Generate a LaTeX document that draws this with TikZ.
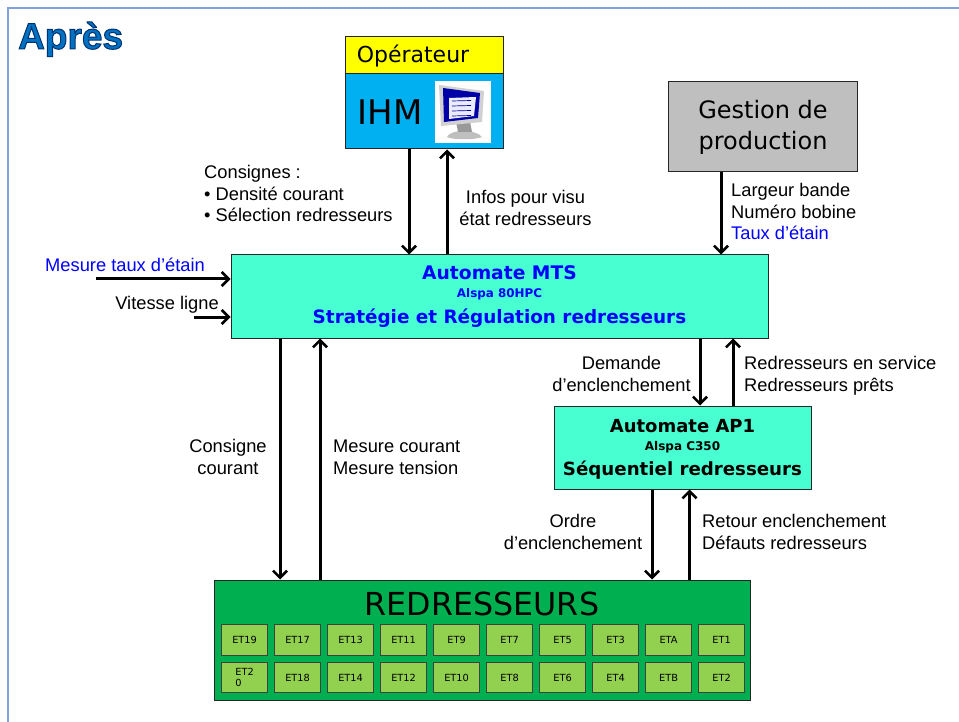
\documentclass[tikz,border=0pt]{standalone}
\usepackage{fontspec}
\setmainfont{Liberation Sans}
\newfontfamily\comic{DejaVu Sans}
\usetikzlibrary{arrows.meta}

\definecolor{cadre}{HTML}{7FA3D6}
\definecolor{titre}{HTML}{0070C0}
\definecolor{jaune}{HTML}{FFFF00}
\definecolor{ciel}{HTML}{00B0F0}
\definecolor{gris}{HTML}{BFBFBF}
\definecolor{turquoise}{HTML}{47FFD1}
\definecolor{vert}{HTML}{00B050}
\definecolor{vertclair}{HTML}{92D050}
\definecolor{bleu}{HTML}{0000FF}

\tikzset{
  boite/.style={draw=black!85,line width=1pt,inner sep=0pt,align=center,font=\comic},
  et/.style={boite,fill=vertclair,draw=black!75,line width=1.2pt,minimum width=45.5pt,minimum height=30.5pt,font=\comic\fontsize{9.8}{11.5}\selectfont},
  fleche/.style={draw=black,line width=3pt,-{Straight Barb[length=7pt,width=14pt,line width=2.6pt]}},
  legende/.style={inner sep=0pt,font=\fontsize{18.3}{21.7}\selectfont}
}

\begin{document}
\begin{tikzpicture}[x=1pt,y=-1pt]

      \useasboundingbox (0,0) rectangle (959,722);
      \begin{scope}
        \clip (0,0) rectangle (959,722);
        \draw[cadre,line width=2.5pt] (8,8) rectangle (980,740);
      \end{scope}

      \node[anchor=base west,inner sep=0pt,text=titre,font=\fontsize{37}{37}\selectfont\bfseries] (apres) at (18,49)
        {\special{pdf:code 2 Tr 1 w 0 0.2 0.45 RG}Après\special{pdf:code 0 Tr}};

      % boxes at the top
      \node[boite,fill=jaune,minimum width=158pt,minimum height=37pt] (operateur) at (424,55.5) {};
      \node[inner sep=0pt,font=\comic\fontsize{22}{22}\selectfont] (operateurtxt) at (413,56) {Opérateur};
      \node[boite,fill=ciel,minimum width=158pt,minimum height=75pt] (ihm) at (424,111.5) {};
      \node[inner sep=0pt,font=\comic\fontsize{34}{34}\selectfont] (ihmtxt) at (390,112) {IHM};
      \node[fill=white,minimum width=56pt,minimum height=62pt,inner sep=0pt] (ecran) at (463,112) {};
      % little monitor
      \fill[black!25] (447,137) .. controls (450,129) and (476,129) .. (482,137) .. controls (476,140) and (452,140) .. (447,137);
      \fill[black!40] (456,122) -- (470,122) -- (472,132) -- (458,132) -- cycle;
      \fill[black!18] (439,85) -- (484,91) -- (482,122) -- (441,126) -- cycle;
      \fill[blue!65!black] (443,88) -- (480,93) -- (478,118) -- (444,122) -- cycle;
      \fill[white!92!blue] (449,98) -- (476,97) -- (474,116) -- (449,119) -- cycle;
      \foreach \y in {101,106,111,116}
        \draw[blue!60!black,line width=.7pt] (452,\y) -- (471,\y-.5);

      \node[boite,fill=gris,minimum width=189pt,minimum height=90pt,font=\comic\fontsize{24}{31}\selectfont] (gestion) at (763,127)
        {Gestion de\\production};

      % automates
      \node[boite,fill=turquoise,minimum width=537pt,minimum height=83pt,text=bleu,font=\comic\bfseries] (mts) at (499.5,296.5)
        {\fontsize{18.7}{22}\selectfont Automate MTS\\[6pt]
         \fontsize{11.9}{14}\selectfont Alspa 80HPC\\[7pt]
         \fontsize{18.4}{23}\selectfont Stratégie et Régulation redresseurs};
      \node[boite,fill=turquoise,minimum width=257pt,minimum height=83pt] (ap) at (682.5,447.5) {};
      \node[inner sep=0pt,align=center,font=\comic\bfseries] (aptxt) at (682.5,449.5)
        {\fontsize{18}{22}\selectfont Automate AP1\\[6pt]
         \fontsize{12}{14}\selectfont Alspa C350\\[7pt]
         \fontsize{18.2}{23}\selectfont Séquentiel redresseurs};

      % redresseurs
      \node[boite,fill=vert,minimum width=536pt,minimum height=120pt] (redr) at (482,640) {};
      \node[inner sep=0pt,font=\comic\fontsize{31.7}{31.7}\selectfont] (redrtxt) at (482,604) {REDRESSEURS};

      \foreach \nom [count=\i from 0] in {ET19,ET17,ET13,ET11,ET9,ET7,ET5,ET3,ETA,ET1}
        \node[et] (haut\i) at (244.6+53*\i,640) {\nom};
      \foreach \nom [count=\i from 1] in {ET18,ET14,ET12,ET10,ET8,ET6,ET4,ETB,ET2}
        \node[et] (bas\i) at (244.6+53*\i,677.5) {\nom};
      \node[et,align=left] (bas0) at (244.6,677.5) {ET2\\0};

      % arrows
      \draw[fleche] ([xshift=-15pt]ihm.south) -- ([xshift=-15pt]ihm.south |- mts.north);
      \draw[fleche] ([xshift=23pt]ihm.south |- mts.north) -- ([xshift=23pt]ihm.south);
      \draw[fleche] ([xshift=-42pt]gestion.south) -- ([xshift=-42pt]gestion.south |- mts.north);

      \coordinate (taux) at (96,279);
      \coordinate (vitesse) at (194,317);
      \draw[fleche] (taux) -- (taux -| mts.west);
      \draw[fleche] (vitesse) -- (vitesse -| mts.west);

      \draw[fleche] ([xshift=-219.5pt]mts.south) -- ([xshift=-219.5pt]mts.south |- redr.north);
      \draw[fleche] ([xshift=-179.5pt]mts.south |- redr.north) -- ([xshift=-179.5pt]mts.south);

      \draw[fleche] ([xshift=200.5pt]mts.south) -- ([xshift=200.5pt]mts.south |- ap.north);
      \draw[fleche] ([xshift=233.5pt]mts.south |- ap.north) -- ([xshift=233.5pt]mts.south);

      \draw[fleche] ([xshift=-30.5pt]ap.south) -- ([xshift=-30.5pt]ap.south |- redr.north);
      \draw[fleche] ([xshift=7pt]ap.south |- redr.north) -- ([xshift=7pt]ap.south);

      % labels
      \begin{scope}[every node/.style={legende}]
        \node[anchor=north west,align=left] (consignes) at (204,165) {Consignes :\\• Densité courant\\• Sélection redresseurs};
        \node[anchor=north,align=center] (infos) at (525.5,190) {Infos pour visu\\état redresseurs};
        \node[anchor=north west,align=left] (largeur) at (731,183) {Largeur bande\\Numéro bobine\\\textcolor{bleu}{Taux d’étain}};
        \node[anchor=base west,text=bleu] (mesure) at (45,272) {Mesure taux d’étain};
        \node[anchor=base east] (vitligne) at (219,309) {Vitesse ligne};
        \node[anchor=north,align=center] (conscourant) at (228,439) {Consigne\\courant};
        \node[anchor=north west,align=left] (mescourant) at (333,440) {Mesure courant\\Mesure tension};
        \node[anchor=north,align=center] (demande) at (621.5,356) {Demande\\d’enclenchement};
        \node[anchor=north west,align=left] (enservice) at (744,356) {Redresseurs en service\\Redresseurs prêts};
        \node[anchor=north,align=center] (ordre) at (573,514) {Ordre\\d’enclenchement};
        \node[anchor=north west,align=left] (retour) at (702,514) {Retour enclenchement\\Défauts redresseurs};
      \end{scope}

    \end{tikzpicture}
\end{document}
